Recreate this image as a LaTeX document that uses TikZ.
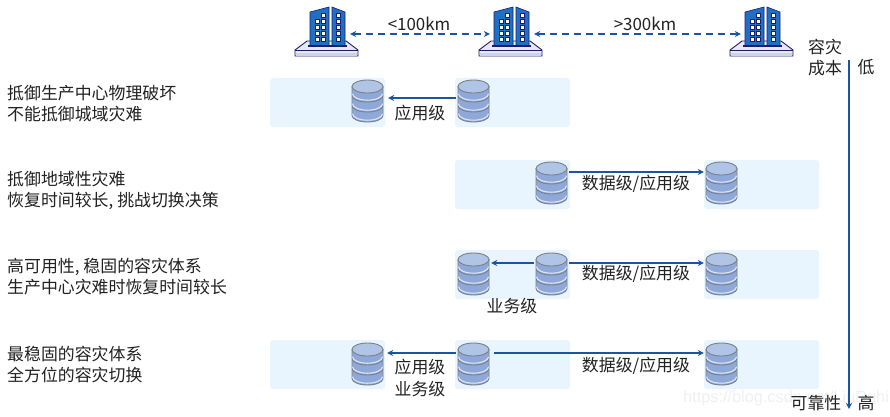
\documentclass[tikz,border=0pt]{standalone}
\usepackage{fontspec}
\setmainfont{Noto Sans CJK SC}
\newfontfamily\wmfont{Liberation Sans}
\usetikzlibrary{arrows.meta}
\definecolor{panelc}{HTML}{E8F4FE}
\definecolor{arrowc}{HTML}{1B549F}
\definecolor{navy}{HTML}{1F1A6E}
\definecolor{bldg}{HTML}{1F6FC4}
\definecolor{dbtop}{HTML}{B0C5E6}
\definecolor{dbbody}{HTML}{8EA9D9}
\definecolor{dbline}{HTML}{7A7F88}
\definecolor{txt}{HTML}{222222}
\tikzset{
  x=1pt,y=-1pt,
  panel/.style={fill=panelc,rounded corners=3pt,draw=none},
  lbl/.style={inner sep=0pt,text=txt,font=\fontsize{16.9}{21}\selectfont},
  leftlbl/.style={lbl,anchor=west,align=left},
  link/.style={draw=arrowc,line width=1.2pt,-{Stealth[length=6pt,width=6pt]}},
  dlink/.style={draw=arrowc,line width=1.2pt,dash pattern=on 7pt off 5pt,{Stealth[length=6pt,width=6pt]}-{Stealth[length=6pt,width=6pt]}},
}
% \dbnode{name}{left}{top}
\newcommand{\dbnode}[3]{%
  \begin{scope}[shift={(#2,#3)}]
    \foreach \c in {35.5,25.5,15.5}{
      \fill[dbbody,draw=dbline,line width=.9pt] (0,\c-9) -- (0,\c) arc[start angle=180,end angle=360,x radius=15.5pt,y radius=6.5pt] -- (31,\c-9) -- cycle;
      \draw[white!70!dbbody,line width=1.1pt] (.5,\c-1.8) arc[start angle=180,end angle=360,x radius=15pt,y radius=6.5pt];
    }
    \fill[dbtop,draw=dbline,line width=.9pt] (15.5,6.5) ellipse[x radius=15.5pt,y radius=6.5pt];
  \end{scope}
  \node[inner sep=0pt,minimum width=31pt,minimum height=42pt] (#1) at (#2+15.5,#3+21) {};
}
% \bldnode{name}{left}{top}
\newcommand{\bldnode}[3]{%
  \begin{scope}[shift={(#2,#3)}]
    \fill[white!90!navy,draw=navy,line width=.9pt] (12,38) -- (0,47) -- (0,53) -- (63,53) -- (63,47) -- (51,38) -- cycle;
    \draw[navy,line width=.9pt] (0,47) -- (63,47);
    \fill[dbtop!70!white] (.6,50) rectangle (62.4,52.5);
    \fill[bldg] (15,9) -- (34,4) -- (34,42) -- (15,42) -- cycle;
    \fill[bldg] (37,4) -- (50,9) -- (50,42) -- (37,42) -- cycle;
    \draw[navy,line width=.6pt] (15,42) -- (15,9) -- (34,4) -- (34,42);
    \draw[navy,line width=.6pt] (37,42) -- (37,4) -- (50,9) -- (50,42);
    \fill[navy] (13,41.5) rectangle (52,43.5);
    \foreach \yy in {18,24,30,36}{
      \draw[navy,fill=white,line width=.6pt] (20.5,\yy-2) rectangle +(4,4);
      \draw[navy,fill=white,line width=.6pt] (26.5,\yy-2) rectangle +(4,4);
    }
    \draw[navy,fill=white,line width=.6pt] (26.5,10) rectangle +(4,4);
    \foreach \yy in {12,18,24,30,36}{
      \draw[navy,fill=white,line width=.6pt] (41.5,\yy-2) rectangle +(4,4);
    }
  \end{scope}
  \node[inner sep=0pt,minimum width=44pt,minimum height=14pt] (#1) at (#2+33,34+#3-3) {};
}
\begin{document}
\begin{tikzpicture}
\useasboundingbox (0,0) rectangle (890,416);
\fill[white] (0,0) rectangle (890,416);
% watermark
\node[inner sep=0pt,text=black!6,font=\wmfont\fontsize{16.3}{20}\selectfont,anchor=west] at (683,398) {https://blog.csdn.net/LiuRuhi};
% panels
\fill[panel] (270,78) rectangle (385,127);
\fill[panel] (455,78) rectangle (570,127);
\fill[panel] (455,160) rectangle (570,209);
\fill[panel] (704,160) rectangle (819,209);
\fill[panel] (455,250) rectangle (570,299);
\fill[panel] (704,250) rectangle (819,299);
\fill[panel] (270,340) rectangle (385,389);
\fill[panel] (455,340) rectangle (570,389);
\fill[panel] (704,340) rectangle (819,389);
% buildings
\bldnode{b1}{295}{3}
\bldnode{b2}{479}{3}
\bldnode{b3}{730}{3}
\draw[dlink] (b1.east) -- (b2.west);
\draw[dlink] (b2.east) -- (b3.west);
\node[lbl] at (419,24) {<100km};
\node[lbl] at (645,24) {>300km};
% databases
\dbnode{a1}{352}{80}
\dbnode{a2}{458}{80}
\dbnode{c1}{536}{162}
\dbnode{c2}{706}{162}
\dbnode{e1}{458}{253}
\dbnode{e2}{536}{253}
\dbnode{e3}{706}{253}
\dbnode{f1}{352}{343}
\dbnode{f2}{458}{343}
\dbnode{f3}{706}{343}
% links
\draw[link] ([xshift=-2pt,yshift=3pt]a2.west) -- ([xshift=5pt,yshift=3pt]a1.east);
\draw[link] ([xshift=2pt,yshift=11pt]c1.east) -- ([xshift=-2pt,yshift=11pt]c2.west);
\draw[link] ([xshift=-2pt,yshift=11pt]e2.west) -- ([xshift=2pt,yshift=11pt]e1.east);
\draw[link] ([xshift=2pt,yshift=11pt]e2.east) -- ([xshift=-2pt,yshift=11pt]e3.west);
\draw[link] ([xshift=-2pt,yshift=11pt]f2.west) -- ([xshift=4pt,yshift=11pt]f1.east);
\draw[link] ([xshift=5pt,yshift=11pt]f2.east) -- ([xshift=-2pt,yshift=11pt]f3.west);
% link labels
\node[lbl] at (420,113) {应用级};
\node[lbl] at (636,184) {数据级/应用级};
\node[lbl] at (636,274) {数据级/应用级};
\node[lbl] at (512,306) {业务级};
\node[lbl] at (420,367) {应用级};
\node[lbl] at (420,389) {业务级};
\node[lbl] at (636,366) {数据级/应用级};
% left
\node[leftlbl] at (7,103.5) {抵御生产中心物理破坏\\不能抵御城域灾难};
\node[leftlbl] at (7,190.5) {抵御地域性灾难\\恢复时间较长,\hspace{4pt}挑战切换决策};
\node[leftlbl] at (7,277) {高可用性,\hspace{4pt}稳固的容灾体系\\生产中心灾难时恢复时间较长};
\node[leftlbl] at (7,364.5) {最稳固的容灾体系\\全方位的容灾切换};
% axis
\coordinate (ax1) at (849,60);
\coordinate (ax2) at (849,409);
\draw[link] (ax1) -- (ax2);
\node[lbl,align=center] at (825,58) {容灾\\成本};
\node[lbl] at (866,67) {低};
\node[lbl] at (816,403) {可靠性};
\node[lbl] at (866,403) {高};
\end{tikzpicture}
\end{document}
